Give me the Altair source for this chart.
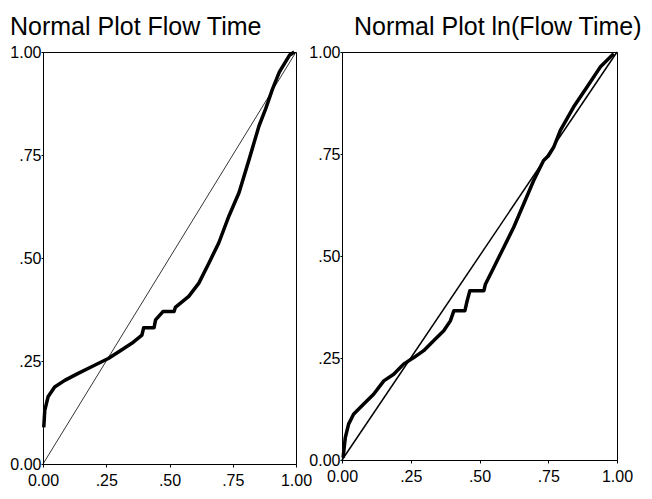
import altair as alt
import pandas as pd

# ---- data ----
TITLE_LEFT = "Normal Plot Flow Time"
TITLE_RIGHT = "Normal Plot ln(Flow Time)"

TICK_VALUES = [0.0, 0.25, 0.5, 0.75, 1.0]
TICK_LABELS = ["0.00", ".25", ".50", ".75", "1.00"]

DIAG = [0.0, 1.0]

LEFT_X = [0.003, 0.007, 0.02, 0.046, 0.086, 0.139, 0.192, 0.258, 0.298, 0.351, 0.391,
          0.398, 0.404, 0.439, 0.445, 0.474, 0.518, 0.523, 0.576, 0.616, 0.656, 0.695,
          0.735, 0.775, 0.815, 0.854, 0.88, 0.907, 0.934, 0.974, 0.993]
LEFT_Y = [0.089, 0.13, 0.163, 0.187, 0.203, 0.22, 0.236, 0.256, 0.272, 0.293, 0.313,
          0.331, 0.331, 0.331, 0.35, 0.37, 0.37, 0.38, 0.407, 0.439, 0.488, 0.537,
          0.602, 0.659, 0.74, 0.821, 0.862, 0.91, 0.951, 0.992, 1.0]

RIGHT_X = [0.004, 0.012, 0.024, 0.042, 0.079, 0.115, 0.152, 0.188, 0.224, 0.261, 0.297,
           0.333, 0.37, 0.394, 0.407, 0.447, 0.455, 0.465, 0.516, 0.521, 0.552, 0.588,
           0.624, 0.661, 0.697, 0.733, 0.75, 0.77, 0.794, 0.842, 0.891, 0.939, 0.988]
RIGHT_Y = [0.006, 0.055, 0.088, 0.112, 0.137, 0.161, 0.194, 0.21, 0.235, 0.251, 0.268,
           0.292, 0.317, 0.341, 0.366, 0.366, 0.39, 0.415, 0.415, 0.43, 0.472, 0.521,
           0.57, 0.628, 0.685, 0.734, 0.745, 0.767, 0.808, 0.865, 0.914, 0.963, 0.996]

left_df = pd.DataFrame({"x": LEFT_X, "y": LEFT_Y})
right_df = pd.DataFrame({"x": RIGHT_X, "y": RIGHT_Y})
diag_df = pd.DataFrame({"x": DIAG, "y": DIAG})

label_expr = " : ".join(
    f"datum.value == {v} ? '{l}'" for v, l in zip(TICK_VALUES, TICK_LABELS)
) + " : ''"

FONT = "Liberation Sans"
LABEL_FONT = "Liberation Sans Narrow, Liberation Sans"


def x_axis():
    return alt.Axis(values=TICK_VALUES, labelExpr=label_expr, title=None, grid=False,
                    tickSize=3, labelPadding=5, labelFontSize=16, labelFont=LABEL_FONT,
                    labelColor="black", domainColor="black", tickColor="black",
                    labelFlush=False, labelOverlap=False)


def y_axis():
    return alt.Axis(values=TICK_VALUES, labelExpr=label_expr, title=None, grid=False,
                    tickSize=2, labelPadding=0, labelFontSize=16, labelFont=LABEL_FONT,
                    labelColor="black", domainColor="black", tickColor="black",
                    labelFlush=False, labelOverlap=False, labelBaseline="middle")


def panel(df, title, dx, width, height, diag_width):
    xs = alt.Scale(domain=[0, 1], nice=False, zero=False)
    ys = alt.Scale(domain=[0, 1], nice=False, zero=False)
    diag = alt.Chart(diag_df).mark_line(color="black", strokeWidth=diag_width).encode(
        x=alt.X("x:Q", scale=xs, axis=x_axis()),
        y=alt.Y("y:Q", scale=ys, axis=y_axis()),
    )
    curve = alt.Chart(df).mark_line(color="black", strokeWidth=3.5,
                                    strokeJoin="round").encode(
        x=alt.X("x:Q", scale=xs),
        y=alt.Y("y:Q", scale=ys),
        order=alt.Order("x:Q"),
    )
    return alt.layer(diag, curve).properties(
        width=width, height=height,
        title=alt.TitleParams(title, anchor="start", frame="group", dx=dx,
                              fontSize=25, font=FONT, fontWeight="normal",
                              color="black", offset=4),
    )


left = panel(left_df, TITLE_LEFT, -33, 253, 412, 0.8)
right = panel(right_df, TITLE_RIGHT, 12, 275, 408, 1.5)

chart = alt.hconcat(left, right, spacing=-5).properties(
    padding={"left": 1, "top": 6, "right": 0, "bottom": 0},
    background="white",
).configure_view(stroke="black", strokeWidth=1)

chart.save("out.html", embed_options={"renderer": "svg", "actions": False})
